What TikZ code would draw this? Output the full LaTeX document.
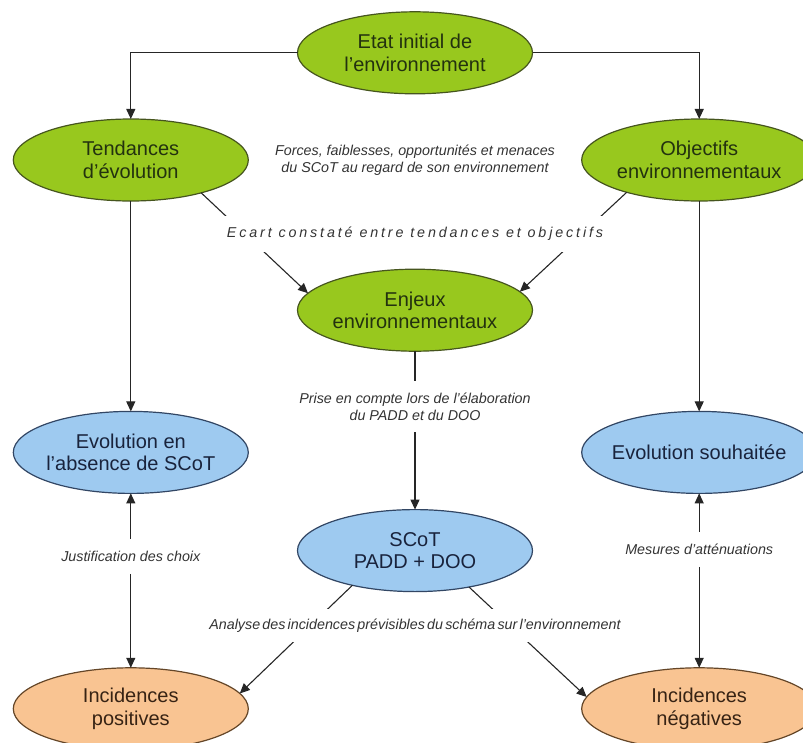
\documentclass[tikz,border=0pt]{standalone}
\usepackage{fontspec}
\setmainfont{Liberation Sans}
\usetikzlibrary{positioning}
\usetikzlibrary{arrows.meta,shapes.geometric}
\usetikzlibrary{calc}

\definecolor{greenfill}{RGB}{152,200,30}
\definecolor{greenline}{RGB}{70,85,30}
\definecolor{greentext}{RGB}{35,50,15}
\definecolor{bluefill}{RGB}{158,202,240}
\definecolor{blueline}{RGB}{50,70,100}
\definecolor{bluetext}{RGB}{25,35,60}
\definecolor{orangefill}{RGB}{249,196,146}
\definecolor{orangeline}{RGB}{100,70,40}
\definecolor{orangetext}{RGB}{55,35,20}

\begin{document}
\begin{tikzpicture}[
  x=1pt,y=1pt,
  font=\fontsize{20}{22.5}\selectfont,
  every matrix/.style={ampersand replacement=\&,column sep=48pt,inner sep=0pt},
  bubble/.style={ellipse,draw,line width=1.2pt,minimum width=235pt,minimum height=82pt,
    inner xsep=-6pt,inner ysep=0pt,outer sep=0pt,align=center},
  theme/.style={bubble,fill=greenfill,draw=greenline,text=greentext},
  outcome/.style={bubble,fill=bluefill,draw=blueline,text=bluetext},
  impact/.style={bubble,fill=orangefill,draw=orangeline,text=orangetext},
  note/.style={font=\fontsize{14.3}{16.5}\selectfont\itshape,align=center,text=black!80},
  blank/.style={fill=white,inner xsep=2pt},
  to/.style={->,>={Triangle[length=10pt,width=9pt]},line width=1.1pt,draw=black!85}]

  \useasboundingbox (0,0) rectangle (803,-743);

  \matrix (layout) [anchor=north west] at (12.5,-11) {
    \& \node[theme] (etat) {Etat initial de\\l'environnement}; \& \\[24pt]
    \node[theme] (tendances) {Tendances\\d'évolution}; \& \&
    \node[theme] (objectifs) {Objectifs\\environnementaux}; \\[67pt]
    \& \node[theme] (enjeux) {Enjeux\\environnementaux}; \& \\[59pt]
    \node[outcome] (sans-scot) {Evolution en\\l'absence de SCoT}; \& \&
    \node[outcome] (souhaitee) {Evolution souhaitée}; \\[15pt]
    \& \node[outcome] (scot) {SCoT\\PADD + DOO}; \& \\[75pt]
    \node[impact] (positives) {Incidences\\positives}; \& \&
    \node[impact] (negatives) {Incidences\\négatives}; \\
  };

  \draw[to] (etat.west) -| (tendances.north);
  \draw[to] (etat.east) -| (objectifs.north);
  \draw[to] (tendances) -- (sans-scot);
  \draw[to] (objectifs) -- (souhaitee);

  \draw[to] (tendances.-25) -- (enjeux.171);
  \draw[to] (objectifs.-156) -- (enjeux.10);
  \node[note,blank,inner ysep=11pt] (ecart) at ([yshift=35pt]enjeux.north)
      {\addfontfeature{LetterSpace=20}Ecart constaté entre tendances et objectifs};

  \node[note] (forces) at ($(tendances)!.5!(objectifs)$)
      {Forces, faiblesses, opportunités et menaces\\du SCoT au regard de son environnement};

  \draw[to] (enjeux) --
      node[note,blank,pos=.35,inner ysep=12pt] (prise)
      {Prise en compte lors de l'élaboration\\du PADD et du DOO} (scot);

  \draw[to] (scot.-151) -- (positives.8);
  \draw[to] (scot.-34) -- (negatives.174);
  \node[note,blank,inner ysep=10pt] (analyse) at ([yshift=-34pt]scot.south)
      {\spaceskip=2.2pt Analyse des incidences prévisibles du schéma sur l'environnement};

  \node[note,inner ysep=12pt] (justif) at ([yshift=-63pt]sans-scot.south) {Justification des choix};
  \draw[to] (justif) -- (sans-scot);
  \draw[to] (justif) -- (positives);

  \node[note,inner ysep=12pt] (mesures) at ([yshift=-56pt]souhaitee.south) {Mesures d'atténuations};
  \draw[to] (mesures) -- (souhaitee);
  \draw[to] (mesures) -- (negatives);
\end{tikzpicture}
\end{document}
